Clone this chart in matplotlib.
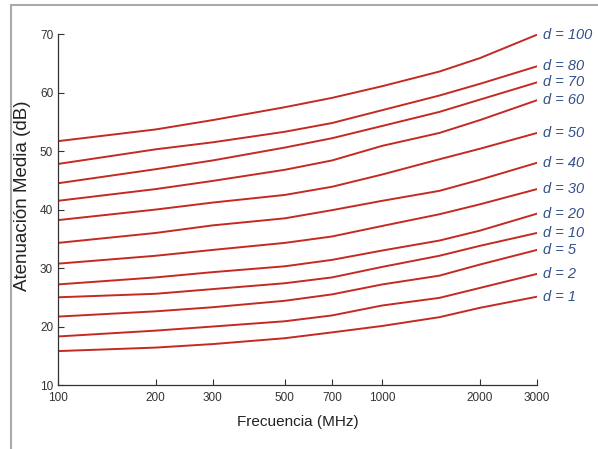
import numpy as np
import matplotlib
matplotlib.use('Agg')
import matplotlib.pyplot as plt
from matplotlib.patches import Rectangle

plt.rcParams['font.family'] = ['Liberation Sans', 'DejaVu Sans']

# frecuencias (MHz) donde se leyeron las curvas
frec = [100, 200, 300, 500, 700, 1000, 1500, 2000, 3000]

# atenuacion media (dB) para cada distancia d
distancias = ['100', '80', '70', '60', '50', '40', '30', '20', '10', '5', '2', '1']
d100 = [51.7, 53.7, 55.3, 57.5, 59.1, 61.1, 63.6, 65.9, 69.9]
d80 = [47.8, 50.3, 51.5, 53.3, 54.8, 57.0, 59.5, 61.5, 64.5]
d70 = [44.5, 46.9, 48.4, 50.6, 52.2, 54.3, 56.7, 58.8, 61.75]
d60 = [41.5, 43.5, 44.9, 46.8, 48.4, 50.9, 53.1, 55.3, 58.7]
d50 = [38.2, 40.0, 41.2, 42.5, 43.9, 46.0, 48.6, 50.4, 53.1]
d40 = [34.3, 36.0, 37.3, 38.5, 39.9, 41.5, 43.2, 45.1, 48.0]
d30 = [30.75, 32.1, 33.1, 34.3, 35.4, 37.2, 39.2, 40.9, 43.5]
d20 = [27.2, 28.4, 29.3, 30.3, 31.4, 33.0, 34.7, 36.4, 39.3]
d10 = [25.0, 25.6, 26.4, 27.4, 28.4, 30.2, 32.1, 33.8, 36.0]
d5 = [21.7, 22.6, 23.3, 24.4, 25.5, 27.2, 28.7, 30.6, 33.1]
d2 = [18.3, 19.3, 20.0, 20.9, 21.9, 23.6, 24.9, 26.6, 29.0]
d1 = [15.8, 16.4, 17.0, 18.0, 19.0, 20.1, 21.6, 23.2, 25.1]
curvas = [d100, d80, d70, d60, d50, d40, d30, d20, d10, d5, d2, d1]

xticks = [100, 200, 300, 500, 700, 1000, 2000, 3000]
yticks = [10, 20, 30, 40, 50, 60, 70]

fig = plt.figure(figsize=(5.98, 4.49), dpi=100)
ax = fig.add_axes([0.097, 0.1425, 0.801, 0.7815])

for nombre, y in zip(distancias, curvas):
    ax.plot(frec, y, color='#c42a22', linewidth=1.4)
    ax.text(frec[-1] * 1.04, y[-1], 'd = ' + nombre, fontsize=10.5,
            style='italic', color='#34508a', va='center', ha='left')

ax.set_xscale('log')
ax.set_xlim(100, 3000)
ax.set_ylim(10, 70)
ax.set_xticks(xticks)
ax.set_xticklabels([str(t) for t in xticks])
ax.minorticks_off()
ax.set_yticks(yticks)
ax.tick_params(direction='in', length=4, labelsize=8.5, colors='#333333')
ax.tick_params(axis='x', pad=5)
for s in ['top', 'right']:
    ax.spines[s].set_visible(False)
for s in ['left', 'bottom']:
    ax.spines[s].set_color('#333333')
    ax.spines[s].set_linewidth(0.9)

ax.set_xlabel('Frecuencia (MHz)', fontsize=11, color='#222222', labelpad=8)
ax.set_ylabel('Atenuación Media (dB)', fontsize=13.5, color='#222222')
ax.yaxis.set_label_coords(-0.056, 0.54)

# marco gris de la figura
marco = Rectangle((11 / 598, -0.05), 1.0, 1 - 5 / 449 + 0.05,
                  transform=fig.transFigure, fill=False,
                  edgecolor='#aaaaaa', linewidth=1.5)
fig.patches.append(marco)

fig.savefig('out.png', dpi=100)
